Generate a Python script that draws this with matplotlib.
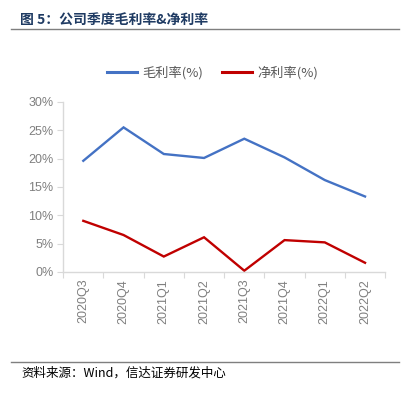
import matplotlib.pyplot as plt
import matplotlib.ticker as mticker
from matplotlib.lines import Line2D

plt.rcParams['font.family'] = ['Noto Sans CJK SC', 'DejaVu Sans']

quarters = ['2020Q3', '2020Q4', '2021Q1', '2021Q2', '2021Q3', '2021Q4', '2022Q1', '2022Q2']
gross_margin = [19.6, 25.5, 20.8, 20.1, 23.5, 20.2, 16.2, 13.3]
net_margin = [9.0, 6.5, 2.7, 6.1, 0.2, 5.6, 5.2, 1.6]

fig = plt.figure(figsize=(4.05, 3.98), dpi=100)
ax = fig.add_axes([0.156, 0.317, 0.795, 0.427])

x = range(len(quarters))
ax.plot(x, gross_margin, color='#4472C4', lw=1.7, solid_joinstyle='miter')
ax.plot(x, net_margin, color='#C00000', lw=1.7, solid_joinstyle='miter')

ax.set_xlim(-0.5, len(quarters) - 0.5)
ax.set_ylim(0, 30)
ax.yaxis.set_major_locator(mticker.MultipleLocator(5))
ax.yaxis.set_major_formatter(mticker.FuncFormatter(lambda v, p: f'{v:.0f}%'))

ax.set_xticks([i - 0.5 for i in range(len(quarters) + 1)])
ax.set_xticklabels([])
ax.set_xticks(list(x), minor=True)
ax.set_xticklabels(quarters, minor=True, rotation=90)
ax.tick_params(axis='x', which='minor', length=0, pad=5, labelsize=9, labelcolor='#7f7f7f')
ax.tick_params(axis='x', which='major', length=4, color='#d9d9d9')
ax.tick_params(axis='y', length=4, color='#d9d9d9', labelsize=9, labelcolor='#7f7f7f', pad=3)
for lab in ax.get_xticklabels(minor=True) + ax.get_yticklabels():
    lab.set_family(['Liberation Sans', 'DejaVu Sans'])

for s in ['top', 'right']:
    ax.spines[s].set_visible(False)
for s in ['left', 'bottom']:
    ax.spines[s].set_color('#d9d9d9')
    ax.spines[s].set_linewidth(1)

handles = [Line2D([], [], color='#4472C4', lw=2.2), Line2D([], [], color='#C00000', lw=2.2)]
fig.legend(handles, ['毛利率(%)', '净利率(%)'], loc='center', bbox_to_anchor=(0.525, 0.818),
           ncol=2, frameon=False, fontsize=9.5, labelcolor='#595959',
           handlelength=2.3, columnspacing=1.4, handletextpad=0.4)

fig.text(0.05, 0.948, '图 5：公司季度毛利率&净利率', fontsize=10, fontweight='bold',
         color='#1F3B63', va='center')
fig.add_artist(Line2D([0.027, 0.985], [0.927, 0.927], color='#7f7f7f', lw=1))
fig.add_artist(Line2D([0.027, 0.985], [0.09, 0.09], color='#7f7f7f', lw=1))
fig.text(0.052, 0.063, '资料来源：Wind，信达证券研发中心', fontsize=9, color='black',
         va='center', style='italic')

fig.savefig('out.png', dpi=100)
